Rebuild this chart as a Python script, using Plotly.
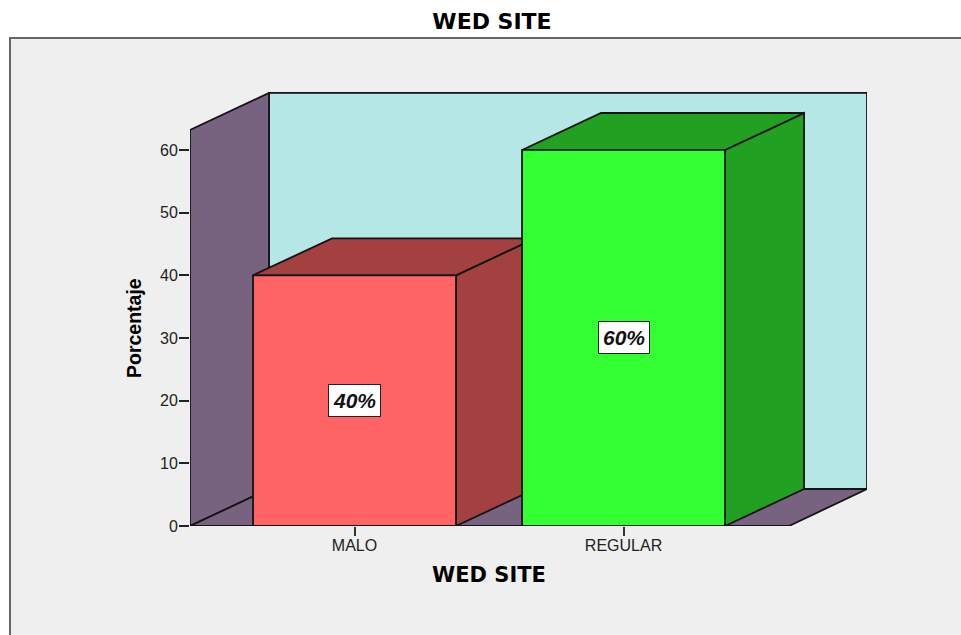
import plotly.graph_objects as go

categories = ["MALO", "REGULAR"]
values = [40, 60]
front_colors = ["#FF6464", "#33FF33"]
side_colors = ["#A34141", "#21A021"]
y_ticks = [0, 10, 20, 30, 40, 50, 60]

WIDTH, HEIGHT = 961, 635
LEFT, RIGHT, TOP, BOTTOM = 190, 867, 92, 526
X_START, X_END = -0.6115, 1.905
Y_MAX = 69.25

# Oblique projection offset of the 3D box, in axis units
DX, DY = 0.2937, 5.9
HALF_BAR = 0.3773
FLOOR_END = 1.615
WALL_TOP = 63.2

INK = "#141414"


def face(xs, ys, color, width=1.8):
    return go.Scatter(
        x=xs + xs[:1], y=ys + ys[:1], mode="lines", fill="toself",
        fillcolor=color, line=dict(color=INK, width=width),
        hoverinfo="skip", showlegend=False, cliponaxis=False,
    )


traces = [
    # back wall, side wall and floor of the chart box
    face([X_START + DX, X_END, X_END, X_START + DX],
         [DY, DY, WALL_TOP + DY, WALL_TOP + DY], "#B5E7E7"),
    face([X_START, X_START + DX, X_START + DX, X_START],
         [0, DY, WALL_TOP + DY, WALL_TOP], "#776280"),
    face([X_START, X_START + DX, X_END, FLOOR_END],
         [0, DY, DY, 0], "#776280"),
]

for i, v in enumerate(values):
    x0, x1 = i - HALF_BAR, i + HALF_BAR
    traces += [
        face([x1, x1 + DX, x1 + DX, x1], [0, DY, v + DY, v], side_colors[i]),
        face([x0, x0 + DX, x1 + DX, x1], [v, v + DY, v + DY, v], side_colors[i]),
        face([x0, x1, x1, x0], [0, 0, v, v], front_colors[i]),
    ]

fig = go.Figure(traces)

plot_w, plot_h = RIGHT - LEFT, BOTTOM - TOP
px = lambda p: (p - LEFT) / plot_w
py = lambda p: (BOTTOM - p) / plot_h

annotations = [
    dict(x=i, y=v / 2, text=f"<b><i>{v}%</i></b>", showarrow=False,
         font=dict(family="Liberation Sans", size=21, color="#111111"),
         bgcolor="#FFFFFF", bordercolor="#222222", borderwidth=1, borderpad=4)
    for i, v in enumerate(values)
]
# Axis titles sit off-centre from the plot area, so they are placed by hand
annotations += [
    dict(xref="paper", yref="paper", x=px(489), y=py(575), text="<b>WED SITE</b>",
         showarrow=False, xanchor="center", yanchor="middle",
         font=dict(family="DejaVu Sans", size=21, color="#000000")),
    dict(xref="paper", yref="paper", x=px(134), y=py(328), text="<b>Porcentaje</b>",
         showarrow=False, textangle=-90, xanchor="center", yanchor="middle",
         font=dict(family="Liberation Sans", size=19.5, color="#000000")),
]

fig.update_layout(
    width=WIDTH, height=HEIGHT,
    margin=dict(l=LEFT, r=WIDTH - RIGHT, t=TOP, b=HEIGHT - BOTTOM, autoexpand=False),
    paper_bgcolor="#FFFFFF", plot_bgcolor="rgba(0,0,0,0)",
    showlegend=False,
    title=dict(text="<b>WED SITE</b>", x=492 / WIDTH, xanchor="center",
               y=1 - 21 / HEIGHT, yanchor="middle",
               font=dict(family="DejaVu Sans", size=22, color="#000000")),
    xaxis=dict(range=[X_START, X_END], tickmode="array", tickvals=[0, 1],
               ticktext=categories, ticks="outside", ticklen=9, tickwidth=1.5,
               tickcolor="#333333", showgrid=False, zeroline=False, showline=False,
               ticklabelstandoff=-4,
               tickfont=dict(family="Liberation Sans", size=16, color="#222222")),
    yaxis=dict(range=[0, Y_MAX], tickmode="array", tickvals=y_ticks,
               ticks="outside", ticklen=10, tickwidth=1.5, tickcolor="#222222",
               showgrid=False, zeroline=False, showline=False,
               ticklabelstandoff=-2,
               tickfont=dict(family="Liberation Sans", size=16, color="#222222")),
    annotations=annotations,
    shapes=[dict(type="rect", xref="paper", yref="paper", layer="below",
                 x0=px(10), x1=px(975), y0=py(38), y1=py(660),
                 fillcolor="#EFEFEF", line=dict(color="#666666", width=2))],
)

fig.write_html("out.html")
